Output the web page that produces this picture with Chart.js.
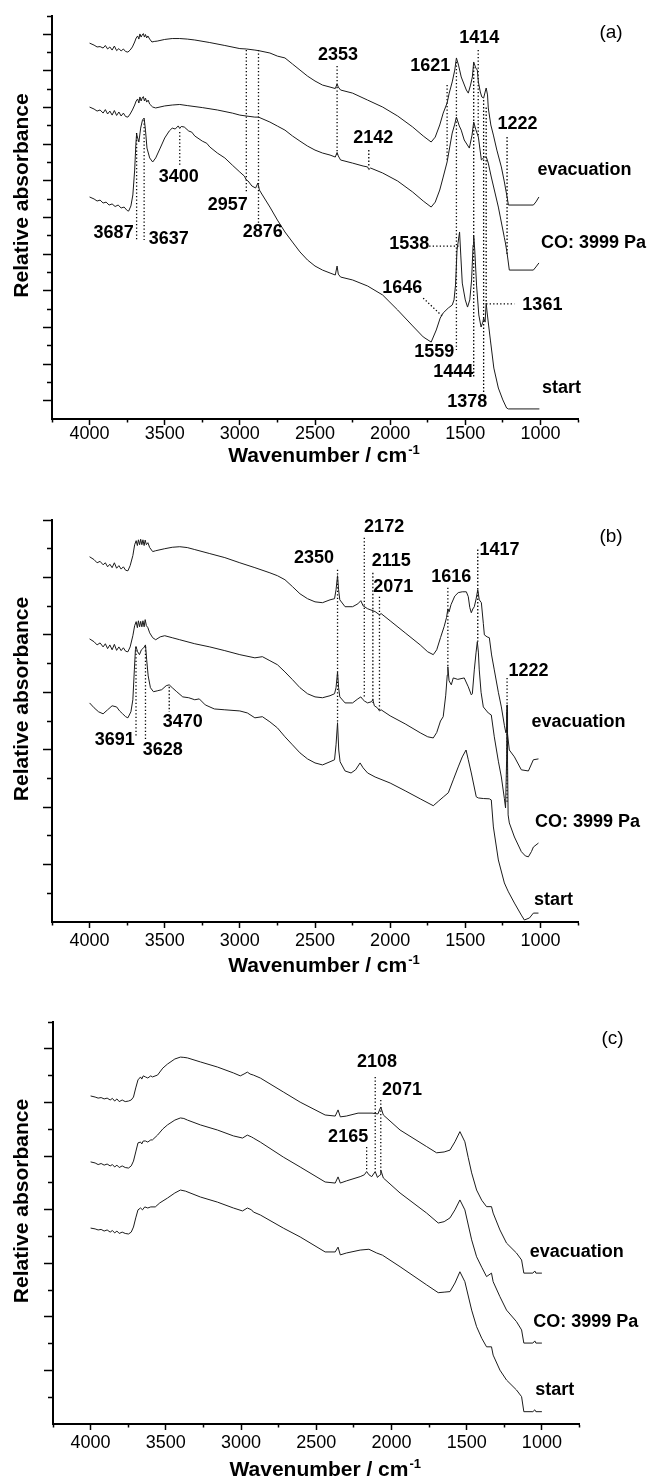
<!DOCTYPE html>
<html>
<head>
<meta charset="utf-8">
<title>IR spectra of adsorbed CO</title>
<script src="https://cdn.jsdelivr.net/npm/chart.js@4.4.1/dist/chart.umd.min.js"></script>
<style>
  html, body { margin: 0; padding: 0; background: #fff; }
  #wrap { position: relative; width: 650px; height: 1479px; }
  canvas { position: absolute; left: 0; }
</style>
</head>
<body>
<div id="wrap">
  <canvas id="panelA" width="650" height="490" style="top:0px"></canvas>
  <canvas id="panelB" width="650" height="500" style="top:490px"></canvas>
  <canvas id="panelC" width="650" height="489" style="top:990px"></canvas>
</div>
<script>
// ---------- shared axis values ----------
const xTickValues = [4250, 4000, 3750, 3500, 3250, 3000, 2750, 2500, 2250, 2000, 1750, 1500, 1250, 1000, 750];
const yTitle = 'Relative absorbance';
const xTitle = 'Wavenumber / cm';
const xTitleSup = '-1';

// ---------- panel (a) ----------
const aEvacWn = [4000,3970,3950,3930,3910,3895,3880,3865,3850,3835,
  3820,3805,3790,3775,3760,3745,3730,3715,3700,3690,
  3680,3672,3665,3657,3650,3642,3635,3628,3620,3612,
  3600,3585,3570,3550,3500,3450,3400,3350,3300,3200,
  3100,3000,2957,2900,2876,2800,2750,2700,2650,2600,
  2550,2500,2450,2400,2365,2353,2345,2330,2250,2150,
  2050,1950,1850,1780,1727,1700,1670,1647,1621,1607,
  1587,1570,1559,1545,1527,1493,1480,1465,1453,1444,
  1430,1420,1413,1400,1390,1378,1368,1361,1352,1347,
  1330,1313,1290,1260,1240,1222,1213,1047,1030,1010];
const aEvacAbs = [20.52,20.41,20.31,20.33,20.25,20.39,20.20,20.31,20.14,20.36,
  20.11,20.22,20.09,20.20,20.06,20.03,20.14,20.31,20.58,20.80,
  20.91,20.74,21.02,20.85,20.96,21.04,20.85,20.99,20.80,20.91,
  20.74,20.58,20.61,20.63,20.72,20.77,20.77,20.74,20.69,20.55,
  20.39,20.22,20.20,20.14,20.11,19.98,19.81,19.71,19.38,19.05,
  18.72,18.45,18.23,18.12,18.04,18.29,18.12,17.96,17.79,17.41,
  17.03,16.54,15.94,15.45,15.12,15.39,16.05,16.70,17.25,17.79,
  18.40,19.05,19.71,19.32,18.67,17.96,17.79,18.23,18.67,19.49,
  19.16,19.05,18.40,17.85,17.58,17.52,17.85,18.07,17.69,16.98,
  16.05,15.50,14.68,13.76,12.94,12.12,11.68,11.68,11.85,12.12];

const aCoWn = [4000,3970,3950,3930,3910,3895,3880,3865,3850,3835,
  3820,3805,3790,3775,3760,3745,3730,3715,3700,3690,
  3680,3672,3665,3657,3650,3642,3635,3628,3620,3610,
  3600,3580,3560,3500,3450,3400,3350,3250,3150,3050,
  3000,2957,2900,2876,2800,2750,2700,2650,2600,2550,
  2500,2450,2400,2365,2353,2345,2330,2250,2180,2150,
  2142,2130,2050,1950,1850,1780,1727,1700,1670,1647,
  1621,1607,1587,1570,1559,1540,1527,1507,1473,1455,
  1444,1430,1413,1393,1373,1360,1347,1327,1280,1240,
  1233,1222,1207,1047,1030,1010];
const aCoAbs = [17.03,16.92,16.81,16.87,16.70,16.89,16.65,16.81,16.59,16.84,
  16.57,16.76,16.54,16.70,16.51,16.48,16.65,16.87,17.14,17.36,
  17.47,17.25,17.58,17.36,17.52,17.60,17.36,17.52,17.30,17.41,
  17.19,17.03,16.98,17.09,17.14,17.17,17.11,17.00,16.87,16.70,
  16.59,16.54,16.48,16.48,16.21,15.99,15.77,15.45,15.17,14.90,
  14.68,14.52,14.41,14.30,14.55,14.36,14.14,13.97,13.81,13.76,
  13.62,13.70,13.43,12.99,12.39,11.90,11.57,11.84,12.50,13.21,
  14.03,14.68,15.61,16.10,16.48,16.00,15.77,15.23,14.79,15.50,
  16.21,15.80,15.39,14.14,14.30,14.30,13.97,13.21,11.57,9.90,
  9.61,9.06,8.13,8.13,8.30,8.52];

const aStartWn = [4000,3970,3950,3930,3910,3890,3870,3850,3830,3810,
  3790,3770,3750,3740,3725,3712,3700,3692,3687,3680,
  3672,3660,3648,3637,3628,3618,3600,3580,3560,3530,
  3500,3470,3450,3430,3410,3400,3390,3370,3340,3320,
  3300,3250,3220,3200,3150,3100,3050,3000,2970,2957,
  2945,2920,2895,2880,2870,2850,2800,2750,2700,2650,
  2600,2550,2500,2450,2400,2365,2353,2345,2330,2250,
  2150,2050,1950,1850,1780,1727,1693,1667,1647,1613,
  1587,1575,1565,1555,1538,1530,1520,1500,1485,1470,
  1458,1448,1444,1437,1425,1410,1395,1383,1378,1368,
  1361,1355,1345,1333,1310,1280,1250,1225,1213,1007];
const aStartAbs = [12.12,12.01,11.90,11.95,11.79,11.84,11.68,11.74,11.60,11.68,
  11.52,11.57,11.38,11.35,11.63,12.23,13.59,15.00,15.56,15.34,
  15.12,15.88,16.32,16.43,15.77,14.79,14.25,14.03,14.25,14.79,
  15.34,15.72,15.88,15.83,16.00,15.86,15.97,15.94,15.72,15.66,
  15.45,15.17,15.05,14.85,14.52,14.25,13.86,13.48,13.26,13.05,
  12.99,12.72,12.61,12.88,12.50,12.23,11.57,10.86,10.21,9.66,
  9.12,8.68,8.35,8.13,7.97,7.86,8.35,7.91,7.75,7.59,
  7.26,6.77,5.95,5.08,4.48,4.20,4.86,5.51,5.79,6.06,
  6.22,6.50,7.31,9.22,10.21,8.95,7.42,6.50,6.11,6.50,
  7.59,9.50,9.99,9.22,7.31,5.68,5.02,5.29,5.51,5.29,
  6.33,5.84,5.13,4.31,2.78,1.69,1.04,0.60,0.55,0.55];

// dotted leaders: start (wn, abs) -> end (wn, abs)
const aLeadWn1 = [2353,2142,1621,1414,1222,2957,2876,3400,3687,3637,1740,1780,1361,1559,1444,1378,1361];
const aLeadAbs1 = [19.27,14.68,18.23,20.14,15.39,20.14,20.14,15.67,15.61,16.32,9.44,6.60,6.28,19.49,19.21,17.41,17.00];
const aLeadWn2 = [2353,2142,1621,1414,1222,2957,2876,3400,3687,3637,1538,1647,1173,1559,1444,1378,1361];
const aLeadAbs2 = [14.41,13.76,14.14,15.39,8.95,12.34,10.59,13.76,9.77,9.77,9.44,5.57,6.28,3.77,2.29,1.42,6.33];

const aTagText = ['2353','2142','1621','1414','1222','2957','2876','3400','3687','3637','1538','1646','1361','1559','1444','1378','evacuation','CO: 3999 Pa','start'];
const aTagWn = [2347,2113,1733,1407,1153,3080,2847,3407,3840,3473,1873,1920,987,1707,1580,1487,707,647,860];
const aTagAbs = [19.87,15.34,19.27,20.80,16.10,11.68,10.21,13.21,10.15,9.83,9.55,7.15,6.22,3.66,2.57,0.93,13.59,9.61,1.69];

// ---------- panel (b) ----------
const bEvacWn = [4000,3970,3950,3930,3910,3895,3880,3865,3850,3835,
  3820,3805,3790,3775,3760,3745,3730,3712,3700,3690,
  3682,3675,3667,3660,3652,3645,3637,3630,3622,3612,
  3600,3580,3560,3500,3450,3400,3350,3300,3200,3100,
  3000,2900,2800,2750,2700,2650,2600,2550,2500,2450,
  2400,2370,2360,2350,2343,2335,2300,2250,2215,2195,
  2180,2150,2100,2071,2060,2000,1900,1800,1750,1713,
  1690,1665,1640,1625,1616,1608,1595,1570,1547,1520,
  1493,1480,1470,1460,1450,1440,1428,1417,1407,1393,
  1380,1373,1355,1340,1325,1307,1280,1260,1240,1230,
  1224,1222,1220,1207,1173,1127,1080,1047,1013];
const bEvacAbs = [12.72,12.62,12.51,12.56,12.44,12.51,12.37,12.46,12.34,12.51,
  12.32,12.41,12.29,12.37,12.25,12.23,12.41,12.76,13.14,13.28,
  13.11,13.31,13.14,13.33,13.14,13.31,13.11,13.30,13.14,13.21,
  13.04,12.90,12.93,13.00,13.05,13.07,13.04,12.97,12.83,12.69,
  12.51,12.34,12.16,12.06,11.92,11.68,11.43,11.26,11.15,11.12,
  11.22,11.26,11.57,12.06,11.57,11.22,10.98,10.98,11.08,11.19,
  11.01,10.91,10.81,10.70,10.74,10.49,10.07,9.65,9.41,9.31,
  9.48,9.90,10.30,10.60,10.90,10.80,11.05,11.35,11.47,11.50,
  11.50,11.33,10.95,10.77,10.90,10.98,11.25,11.57,11.22,11.12,
  10.40,10.00,9.93,9.90,9.30,8.78,8.00,7.49,6.85,6.59,
  6.70,7.56,6.60,5.99,5.75,5.30,5.26,5.65,5.68];

const bCoWn = [4000,3970,3950,3930,3910,3895,3880,3865,3850,3835,
  3820,3805,3790,3775,3760,3745,3730,3712,3700,3690,
  3682,3675,3667,3660,3652,3645,3637,3630,3622,3612,
  3600,3580,3560,3530,3500,3450,3400,3300,3200,3100,
  3000,2900,2850,2800,2750,2700,2650,2600,2550,2500,
  2450,2400,2370,2360,2350,2343,2335,2300,2250,2215,
  2195,2180,2172,2150,2125,2115,2105,2085,2071,2060,
  2000,1900,1800,1750,1713,1690,1665,1647,1630,1620,
  1616,1608,1593,1580,1550,1507,1480,1460,1453,1440,
  1428,1420,1413,1407,1395,1380,1347,1327,1307,1280,
  1260,1240,1232,1225,1222,1219,1215,1207,1173,1127,
  1100,1080,1060,1047,1013];
const bCoAbs = [9.86,9.76,9.65,9.72,9.58,9.69,9.52,9.65,9.48,9.67,
  9.46,9.58,9.45,9.55,9.43,9.41,9.58,9.97,10.32,10.46,
  10.25,10.49,10.28,10.47,10.28,10.49,10.28,10.53,10.32,10.25,
  10.07,9.90,9.83,9.93,9.97,9.90,9.83,9.69,9.58,9.45,
  9.31,9.20,9.24,9.10,8.96,8.71,8.44,8.16,7.95,7.84,
  7.81,7.88,7.95,8.16,8.71,8.16,7.84,7.63,7.63,7.77,
  7.84,7.74,7.70,7.63,7.67,7.74,7.53,7.46,7.35,7.39,
  7.18,6.90,6.59,6.45,6.41,6.60,7.00,7.15,7.90,8.60,
  8.89,8.40,8.26,8.50,8.45,8.50,8.19,7.91,7.95,8.78,
  9.40,9.76,9.40,8.78,8.00,7.49,7.28,7.21,6.45,5.60,
  5.05,4.30,3.97,5.65,7.32,5.65,3.73,3.45,2.96,2.45,
  2.30,2.27,2.45,2.61,2.75];

const bStartWn = [4000,3970,3940,3910,3880,3850,3820,3800,3780,3760,
  3745,3725,3712,3702,3695,3691,3680,3668,3655,3640,
  3628,3620,3610,3595,3575,3550,3520,3490,3470,3450,
  3420,3380,3340,3300,3270,3230,3170,3100,3000,2950,
  2900,2850,2800,2750,2700,2650,2600,2550,2500,2450,
  2400,2370,2360,2350,2342,2333,2300,2260,2230,2200,
  2180,2150,2100,2000,1900,1800,1713,1680,1647,1613,
  1580,1547,1520,1495,1480,1460,1427,1413,1380,1340,
  1327,1313,1280,1240,1222,1213,1173,1127,1107,1073,
  1047,1013];
const bStartAbs = [7.63,7.46,7.32,7.25,7.39,7.53,7.49,7.35,7.25,7.15,
  7.11,7.32,7.74,8.78,9.48,9.59,9.41,9.31,9.48,9.55,
  9.65,9.13,8.57,8.16,8.02,8.05,8.09,8.23,8.26,8.16,
  8.02,7.84,7.81,7.74,7.77,7.56,7.42,7.39,7.35,7.28,
  7.11,7.15,6.97,6.76,6.45,6.17,5.89,5.68,5.54,5.47,
  5.58,5.65,6.17,6.94,5.99,5.58,5.26,5.19,5.30,5.54,
  5.37,5.19,5.05,4.84,4.57,4.29,4.05,4.20,4.35,4.50,
  4.95,5.40,5.75,5.99,5.65,5.19,4.36,4.32,4.30,4.29,
  4.25,3.31,2.16,1.36,1.15,1.05,0.66,0.24,0.07,0.14,
  0.31,0.31];

const bLeadWn = [2350,2172,2115,2071,1616,1417,1222,3691,3628,3470];
const bLeadAbs1 = [12.27,13.38,12.16,11.33,11.64,12.97,8.50,9.59,9.59,8.19];
const bLeadAbs2 = [6.94,7.84,7.63,7.39,8.89,9.76,4.15,6.45,6.34,7.32];

const bTagText = ['2350','2172','2115','2071','1616','1417','1222','3691','3628','3470','evacuation','CO: 3999 Pa','start'];
const bTagWn = [2507,2040,1993,1980,1593,1273,1080,3833,3513,3380,747,687,913];
const bTagAbs = [12.69,13.77,12.58,11.68,12.02,12.97,8.75,6.34,6.00,6.97,6.97,3.49,0.77];

// ---------- panel (c) ----------
const cEvacWn = [4000,3970,3950,3930,3910,3890,3870,3855,3840,3825,
  3810,3790,3770,3748,3730,3715,3700,3685,3668,3660,
  3650,3635,3620,3600,3589,3555,3520,3489,3440,3403,
  3380,3356,3270,3157,3051,3005,2980,2958,2940,2918,
  2872,2719,2607,2441,2374,2355,2340,2300,2222,2129,
  2090,2071,2054,1943,1766,1700,1650,1611,1578,1545,
  1512,1490,1467,1434,1400,1368,1335,1324,1279,1235,
  1169,1135,1120,1060,1047,1040,1000];
const cEvacAbs = [12.24,12.20,12.16,12.18,12.13,12.16,12.09,12.15,12.05,12.13,
  12.03,12.09,12.03,12.05,12.09,12.20,12.54,12.84,12.95,12.87,
  12.99,12.95,12.91,12.99,12.95,13.02,13.28,13.43,13.62,13.69,
  13.68,13.66,13.51,13.32,13.10,12.99,13.06,13.13,13.06,13.02,
  12.91,12.39,12.01,11.53,11.49,11.72,11.46,11.49,11.60,11.60,
  11.57,11.83,11.53,10.97,10.35,10.12,10.15,10.22,10.53,10.91,
  10.53,9.95,9.37,8.73,8.35,8.11,8.11,7.87,7.24,6.75,
  6.38,6.12,5.63,5.63,5.71,5.63,5.63];

const cCoWn = [4000,3970,3950,3930,3910,3890,3870,3855,3840,3825,
  3810,3790,3770,3748,3730,3715,3700,3685,3668,3660,
  3650,3635,3620,3600,3589,3555,3520,3489,3440,3403,
  3380,3356,3270,3157,3051,2990,2958,2930,2918,2872,
  2719,2607,2441,2374,2355,2340,2300,2208,2180,2165,
  2150,2131,2108,2093,2076,2071,2054,1943,1766,1689,
  1650,1611,1578,1545,1512,1467,1434,1400,1368,1335,
  1324,1279,1235,1169,1135,1120,1060,1047,1040,1000];
const cCoAbs = [9.78,9.74,9.68,9.72,9.66,9.70,9.63,9.68,9.59,9.66,
  9.57,9.63,9.57,9.55,9.63,9.81,10.15,10.49,10.52,10.45,
  10.56,10.56,10.52,10.60,10.60,10.78,11.01,11.16,11.34,11.42,
  11.40,11.34,11.16,10.97,10.75,10.67,10.78,10.71,10.67,10.52,
  9.96,9.59,9.03,8.99,9.22,8.99,9.07,9.23,9.30,9.42,
  9.30,9.23,9.42,9.20,9.30,9.48,9.18,8.62,7.87,7.50,
  7.55,7.69,7.99,8.36,7.99,6.87,6.24,5.85,5.50,5.63,
  5.31,4.75,4.25,3.82,3.51,3.02,3.02,3.10,3.02,3.02];

const cStartWn = [4000,3970,3950,3930,3910,3890,3870,3855,3840,3825,
  3810,3790,3770,3748,3730,3715,3700,3685,3668,3655,
  3640,3620,3600,3570,3540,3489,3440,3403,3370,3270,
  3157,3051,2990,2958,2930,2918,2872,2719,2607,2441,
  2374,2355,2340,2300,2208,2150,2098,2060,1943,1766,
  1689,1650,1611,1578,1545,1512,1467,1434,1400,1368,
  1335,1324,1279,1235,1169,1135,1120,1060,1047,1040,
  1000];
const cStartAbs = [7.31,7.28,7.24,7.26,7.20,7.24,7.16,7.22,7.13,7.20,
  7.11,7.16,7.11,7.09,7.16,7.35,7.69,7.99,8.06,7.99,
  8.10,8.06,8.10,8.10,8.25,8.43,8.62,8.73,8.69,8.47,
  8.28,8.06,7.95,8.06,7.99,7.91,7.80,7.31,6.98,6.42,
  6.42,6.60,6.31,6.38,6.49,6.52,6.38,6.30,5.87,5.19,
  4.90,4.92,4.94,5.26,5.68,5.31,4.25,3.63,3.20,2.88,
  2.88,2.57,2.01,1.64,1.27,1.02,0.46,0.46,0.53,0.46,
  0.46];

const cLeadWn = [2108,2071,2165];
const cLeadAbs1 = [12.95,12.09,10.34];
const cLeadAbs2 = [9.42,9.48,9.42];

const cTagText = ['2108','2071','2165','evacuation','CO: 3999 Pa','start'];
const cTagWn = [2096,1930,2288,768,709,914];
const cTagAbs = [13.51,12.46,10.71,6.42,3.81,1.27];

// ---------- drawing ----------
const FONT = '"Liberation Sans", Arial, Helvetica, sans-serif';

function buildPanel(canvasId, p) {
  const canvas = document.getElementById(canvasId);
  const H = canvas.height;
  const area = p.area;

  const datasets = p.series.map(s => ({
    data: s[0].map((w, i) => ({ x: w, y: s[1][i] })),
    borderColor: '#1b1b1b',
    borderWidth: 1,
    pointRadius: 0,
    tension: 0,
    fill: false
  }));
  p.leads[0].forEach((w1, i) => {
    datasets.push({
      data: [{ x: w1, y: p.leads[1][i] }, { x: p.leads[2][i], y: p.leads[3][i] }],
      borderColor: '#000',
      borderWidth: 1.3,
      borderDash: [1.3, 2.2],
      pointRadius: 0,
      fill: false
    });
  });

  const yTicks = [];
  for (let v = 1; v <= p.yMax; v++) yTicks.push(v);

  const textLayer = {
    id: 'textLayer',
    afterDraw(chart) {
      const { ctx, chartArea: a, scales } = chart;
      ctx.save();
      ctx.fillStyle = '#000';
      ctx.textAlign = 'center';
      ctx.textBaseline = 'middle';
      ctx.font = 'bold 18px ' + FONT;
      p.tags[0].forEach((t, i) => {
        ctx.fillText(t, scales.x.getPixelForValue(p.tags[1][i]), scales.y.getPixelForValue(p.tags[2][i]));
      });

      ctx.font = '19px ' + FONT;
      ctx.fillText(p.letter, a.right + 33, a.top + 17);

      ctx.save();
      ctx.translate(22, (a.top + a.bottom) / 2 - 22);
      ctx.rotate(-Math.PI / 2);
      ctx.font = 'bold 21px ' + FONT;
      ctx.fillText(yTitle, 0, 0);
      ctx.restore();

      ctx.font = 'bold 21px ' + FONT;
      const w1 = ctx.measureText(xTitle).width;
      ctx.font = 'bold 13px ' + FONT;
      const w2 = ctx.measureText(xTitleSup).width;
      const x0 = (a.left + a.right) / 2 + 9 - (w1 + w2 + 1) / 2;
      const yb = a.bottom + p.titleBase;
      ctx.textAlign = 'left';
      ctx.textBaseline = 'alphabetic';
      ctx.font = 'bold 21px ' + FONT;
      ctx.fillText(xTitle, x0, yb);
      ctx.font = 'bold 13px ' + FONT;
      ctx.fillText(xTitleSup, x0 + w1 + 1, yb - 8);
      ctx.restore();
    }
  };

  new Chart(canvas, {
    type: 'line',
    data: { datasets },
    options: {
      responsive: false,
      animation: false,
      devicePixelRatio: 1,
      events: [],
      layout: {
        autoPadding: false,
        padding: { left: area.left - 9, right: 650 - area.right, top: area.top, bottom: H - area.bottom - 40 }
      },
      plugins: { legend: { display: false }, tooltip: { enabled: false }, title: { display: false } },
      scales: {
        x: {
          type: 'linear',
          reverse: true,
          min: 750,
          max: 4250,
          afterBuildTicks: s => { s.ticks = xTickValues.map(v => ({ value: v })); },
          afterFit: s => { s.height = 40; },
          ticks: {
            autoSkip: false,
            maxRotation: 0,
            minRotation: 0,
            padding: p.labelPad,
            color: '#000',
            font: { family: FONT, size: 18, lineHeight: 1 },
            callback: v => (v % 500 === 0 ? String(v) : '')
          },
          grid: {
            drawOnChartArea: false,
            drawTicks: true,
            tickLength: 6,
            tickWidth: 1.5,
            tickColor: '#000',
            tickBorderDash: c => (c.tick && c.tick.value % 500 !== 0) ? [2.5, 20] : []
          },
          border: { display: true, color: '#000', width: 2 }
        },
        y: {
          type: 'linear',
          min: 0,
          max: p.yMax,
          afterBuildTicks: s => { s.ticks = yTicks.map(v => ({ value: v })); },
          afterFit: s => { s.width = 9; },
          ticks: { display: false },
          grid: {
            drawOnChartArea: false,
            drawTicks: true,
            tickLength: 9,
            tickWidth: 1.5,
            tickColor: '#000',
            tickBorderDash: c => (c.tick && (c.tick.value % 2 === p.majorRem)) ? [] : [0, 4, 10, 10]
          },
          border: { display: true, color: '#000', width: 2 }
        }
      }
    },
    plugins: [textLayer]
  });
}

buildPanel('panelA', {
  area: { left: 52, right: 578, top: 16, bottom: 419 },
  yMax: 22, majorRem: 1, labelPad: 0, titleBase: 43, letter: '(a)',
  series: [[aEvacWn, aEvacAbs], [aCoWn, aCoAbs], [aStartWn, aStartAbs]],
  leads: [aLeadWn1, aLeadAbs1, aLeadWn2, aLeadAbs2],
  tags: [aTagText, aTagWn, aTagAbs]
});

buildPanel('panelB', {
  area: { left: 52, right: 578, top: 30, bottom: 432 },
  yMax: 14, majorRem: 0, labelPad: 4, titleBase: 50, letter: '(b)',
  series: [[bEvacWn, bEvacAbs], [bCoWn, bCoAbs], [bStartWn, bStartAbs]],
  leads: [bLeadWn, bLeadAbs1, bLeadWn, bLeadAbs2],
  tags: [bTagText, bTagWn, bTagAbs]
});

buildPanel('panelC', {
  area: { left: 53, right: 579.5, top: 32, bottom: 434 },
  yMax: 15, majorRem: 0, labelPad: 4, titleBase: 52, letter: '(c)',
  series: [[cEvacWn, cEvacAbs], [cCoWn, cCoAbs], [cStartWn, cStartAbs]],
  leads: [cLeadWn, cLeadAbs1, cLeadWn, cLeadAbs2],
  tags: [cTagText, cTagWn, cTagAbs]
});
</script>
</body>
</html>
